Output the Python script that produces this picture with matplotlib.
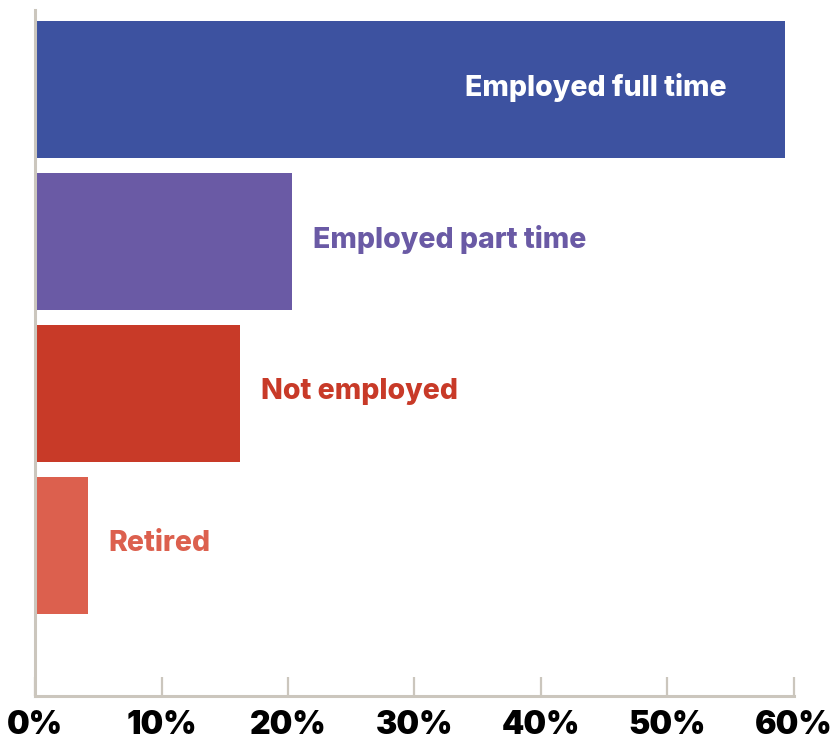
import matplotlib
matplotlib.use('Agg')
import matplotlib.pyplot as plt
from matplotlib.ticker import FuncFormatter


categories = ['Employed full time', 'Employed part time', 'Not employed', 'Retired']
shares = [59.2, 20.2, 16.1, 4.1]
bar_colors = ['#3d52a0', '#6a5aa5', '#c83a28', '#dc604e']
x_ticks = [0, 10, 20, 30, 40, 50, 60]

plt.rcParams['font.family'] = ['Inter', 'DejaVu Sans']

W, H, DPI = 833, 741, 100
fig = plt.figure(figsize=(W / DPI, H / DPI), dpi=DPI)
ax = fig.add_axes([35 / W, 45 / H, (794 - 35) / W, (696 - 10) / H])

ypos = range(len(categories))
ax.barh(ypos, shares, height=0.9, color=bar_colors, left=0.1)

# big bar gets its label inside, the rest sit just past the bar end
for y, name, v, c in zip(ypos, categories, shares, bar_colors):
    if v > 40:
        ax.annotate(name, (v, y), xytext=(-57, 2), textcoords='offset pixels',
                    ha='right', va='center', color='white',
                    fontsize=20.5, fontweight='heavy')
    else:
        ax.annotate(name, (v, y), xytext=(22, 2), textcoords='offset pixels',
                    ha='left', va='center', color=c,
                    fontsize=20.5, fontweight='heavy')

ax.set_xlim(0, 60)
ax.set_ylim(3.99, -0.52)
ax.set_xticks(x_ticks)
ax.xaxis.set_major_formatter(FuncFormatter(lambda v, _: f'{v:.0f}%'))
ax.set_yticks([])

for side in ('top', 'right'):
    ax.spines[side].set_visible(False)
spine_color = '#cbc6bd'
for side in ('left', 'bottom'):
    ax.spines[side].set_color(spine_color)
    ax.spines[side].set_linewidth(2.2)

ax.tick_params(axis='x', direction='in', length=14, width=1.6, color=spine_color,
               labelsize=23, pad=10, labelcolor='black')
for lbl in ax.get_xticklabels():
    lbl.set_fontweight('black')

fig.savefig('out.png', dpi=DPI)
